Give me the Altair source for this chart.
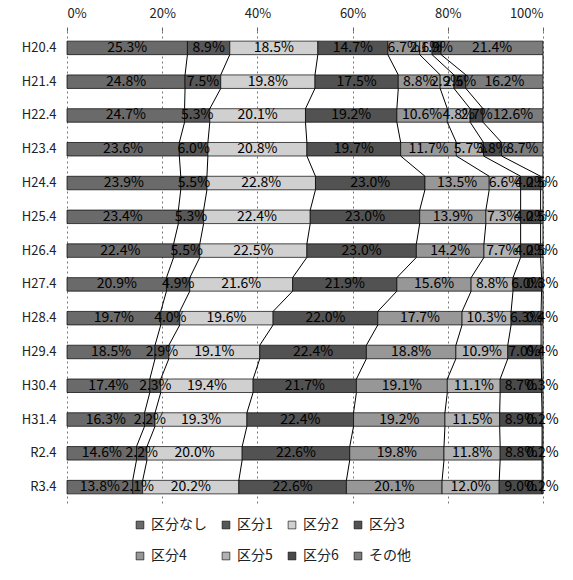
import altair as alt
import pandas as pd

years = ["H20.4", "H21.4", "H22.4", "H23.4", "H24.4", "H25.4", "H26.4",
         "H27.4", "H28.4", "H29.4", "H30.4", "H31.4", "R2.4", "R3.4"]
cats = ["区分なし", "区分1", "区分2", "区分3", "区分4", "区分5", "区分6", "その他"]

v_nashi = [25.3, 24.8, 24.7, 23.6, 23.9, 23.4, 22.4, 20.9, 19.7, 18.5, 17.4, 16.3, 14.6, 13.8]
v_k1 = [8.9, 7.5, 5.3, 6.0, 5.5, 5.3, 5.5, 4.9, 4.0, 2.9, 2.3, 2.2, 2.2, 2.1]
v_k2 = [18.5, 19.8, 20.1, 20.8, 22.8, 22.4, 22.5, 21.6, 19.6, 19.1, 19.4, 19.3, 20.0, 20.2]
v_k3 = [14.7, 17.5, 19.2, 19.7, 23.0, 23.0, 23.0, 21.9, 22.0, 22.4, 21.7, 22.4, 22.6, 22.6]
v_k4 = [6.7, 8.8, 10.6, 11.7, 13.5, 13.9, 14.2, 15.6, 17.7, 18.8, 19.1, 19.2, 19.8, 20.1]
v_k5 = [2.6, 2.9, 4.8, 5.7, 6.6, 7.3, 7.7, 8.8, 10.3, 10.9, 11.1, 11.5, 11.8, 12.0]
v_k6 = [1.9, 2.5, 2.7, 3.8, 4.2, 4.2, 4.2, 6.0, 6.3, 7.0, 8.7, 8.9, 8.8, 9.0]
v_other = [21.4, 16.2, 12.6, 8.7, 0.5, 0.5, 0.5, 0.3, 0.4, 0.4, 0.3, 0.2, 0.2, 0.2]

series = [v_nashi, v_k1, v_k2, v_k3, v_k4, v_k5, v_k6, v_other]
colors = ["#6a6a6a", "#575757", "#d0d0d0", "#525252", "#979797", "#b2b2b2", "#4a4a4a", "#7c7c7c"]

FONT = "Noto Sans CJK JP"

rows = []
ends = []
for i, y in enumerate(years):
    cum = 0.0
    row_ends = []
    for c, s in zip(cats, series):
        v = s[i]
        rows.append({"year": y, "cat": c, "value": v, "start": cum,
                     "end": cum + v, "mid": cum + v / 2, "label": f"{v:.1f}%"})
        cum += v
        row_ends.append(cum)
    ends.append(row_ends)
df = pd.DataFrame(rows)

lines = []
for i in range(len(years) - 1):
    for k in range(len(cats)):
        lines.append({"year": years[i], "next": years[i + 1],
                      "x": ends[i][k], "x2": ends[i + 1][k]})
ldf = pd.DataFrame(lines)

yscale = alt.Scale(domain=years, paddingInner=0.6, paddingOuter=0.3)
xscale = alt.Scale(domain=[0, 100], nice=False)

bars = alt.Chart(df).mark_bar(stroke="black", strokeWidth=0.7).encode(
    y=alt.Y("year:N", sort=years, scale=yscale, title=None,
            axis=alt.Axis(domain=False, ticks=False, labelFont=FONT, labelFontSize=13,
                          labelColor="#222", labelPadding=11)),
    x=alt.X("start:Q", scale=xscale, title=None,
            axis=alt.Axis(orient="top", values=[0, 20, 40, 60, 80, 100],
                          labelExpr="datum.value + '%'", domain=False,
                          tickSize=4, tickColor="#666", labelFont=FONT, labelFontSize=13,
                          labelColor="#222", labelPadding=7,
                          grid=True, gridDash=[2, 3], gridColor="#777", gridWidth=1)),
    x2="end:Q",
    color=alt.Color("cat:N", scale=alt.Scale(domain=cats, range=colors),
                    legend=alt.Legend(title=None, orient="none", legendX=66, legendY=487,
                                      direction="horizontal", columns=4,
                                      symbolType="square", symbolSize=60,
                                      symbolStrokeColor="black", symbolStrokeWidth=0.6,
                                      labelFont=FONT, labelFontSize=14, labelColor="#222",
                                      columnPadding=12, rowPadding=17)),
    order=alt.Order("start:Q"),
)

text = alt.Chart(df).mark_text(font=FONT, fontSize=14, color="black").encode(
    y=alt.Y("year:N", sort=years, scale=yscale),
    x=alt.X("mid:Q", scale=xscale),
    text="label:N",
)

rules = alt.Chart(ldf).mark_rule(color="black", strokeWidth=1).encode(
    y=alt.Y("year:N", sort=years, scale=yscale, bandPosition=1),
    y2=alt.Y2("next:N", bandPosition=0),
    x=alt.X("x:Q", scale=xscale),
    x2="x2:Q",
)

chart = alt.layer(bars, rules, text).properties(
    width=476, height=473,
    autosize=alt.AutoSizeParams(type="none"),
    padding={"left": 67, "top": 31, "right": 30, "bottom": 76},
    background="white",
).configure_view(stroke=None)

chart.save("out.html", embed_options={"renderer": "svg", "actions": False})
